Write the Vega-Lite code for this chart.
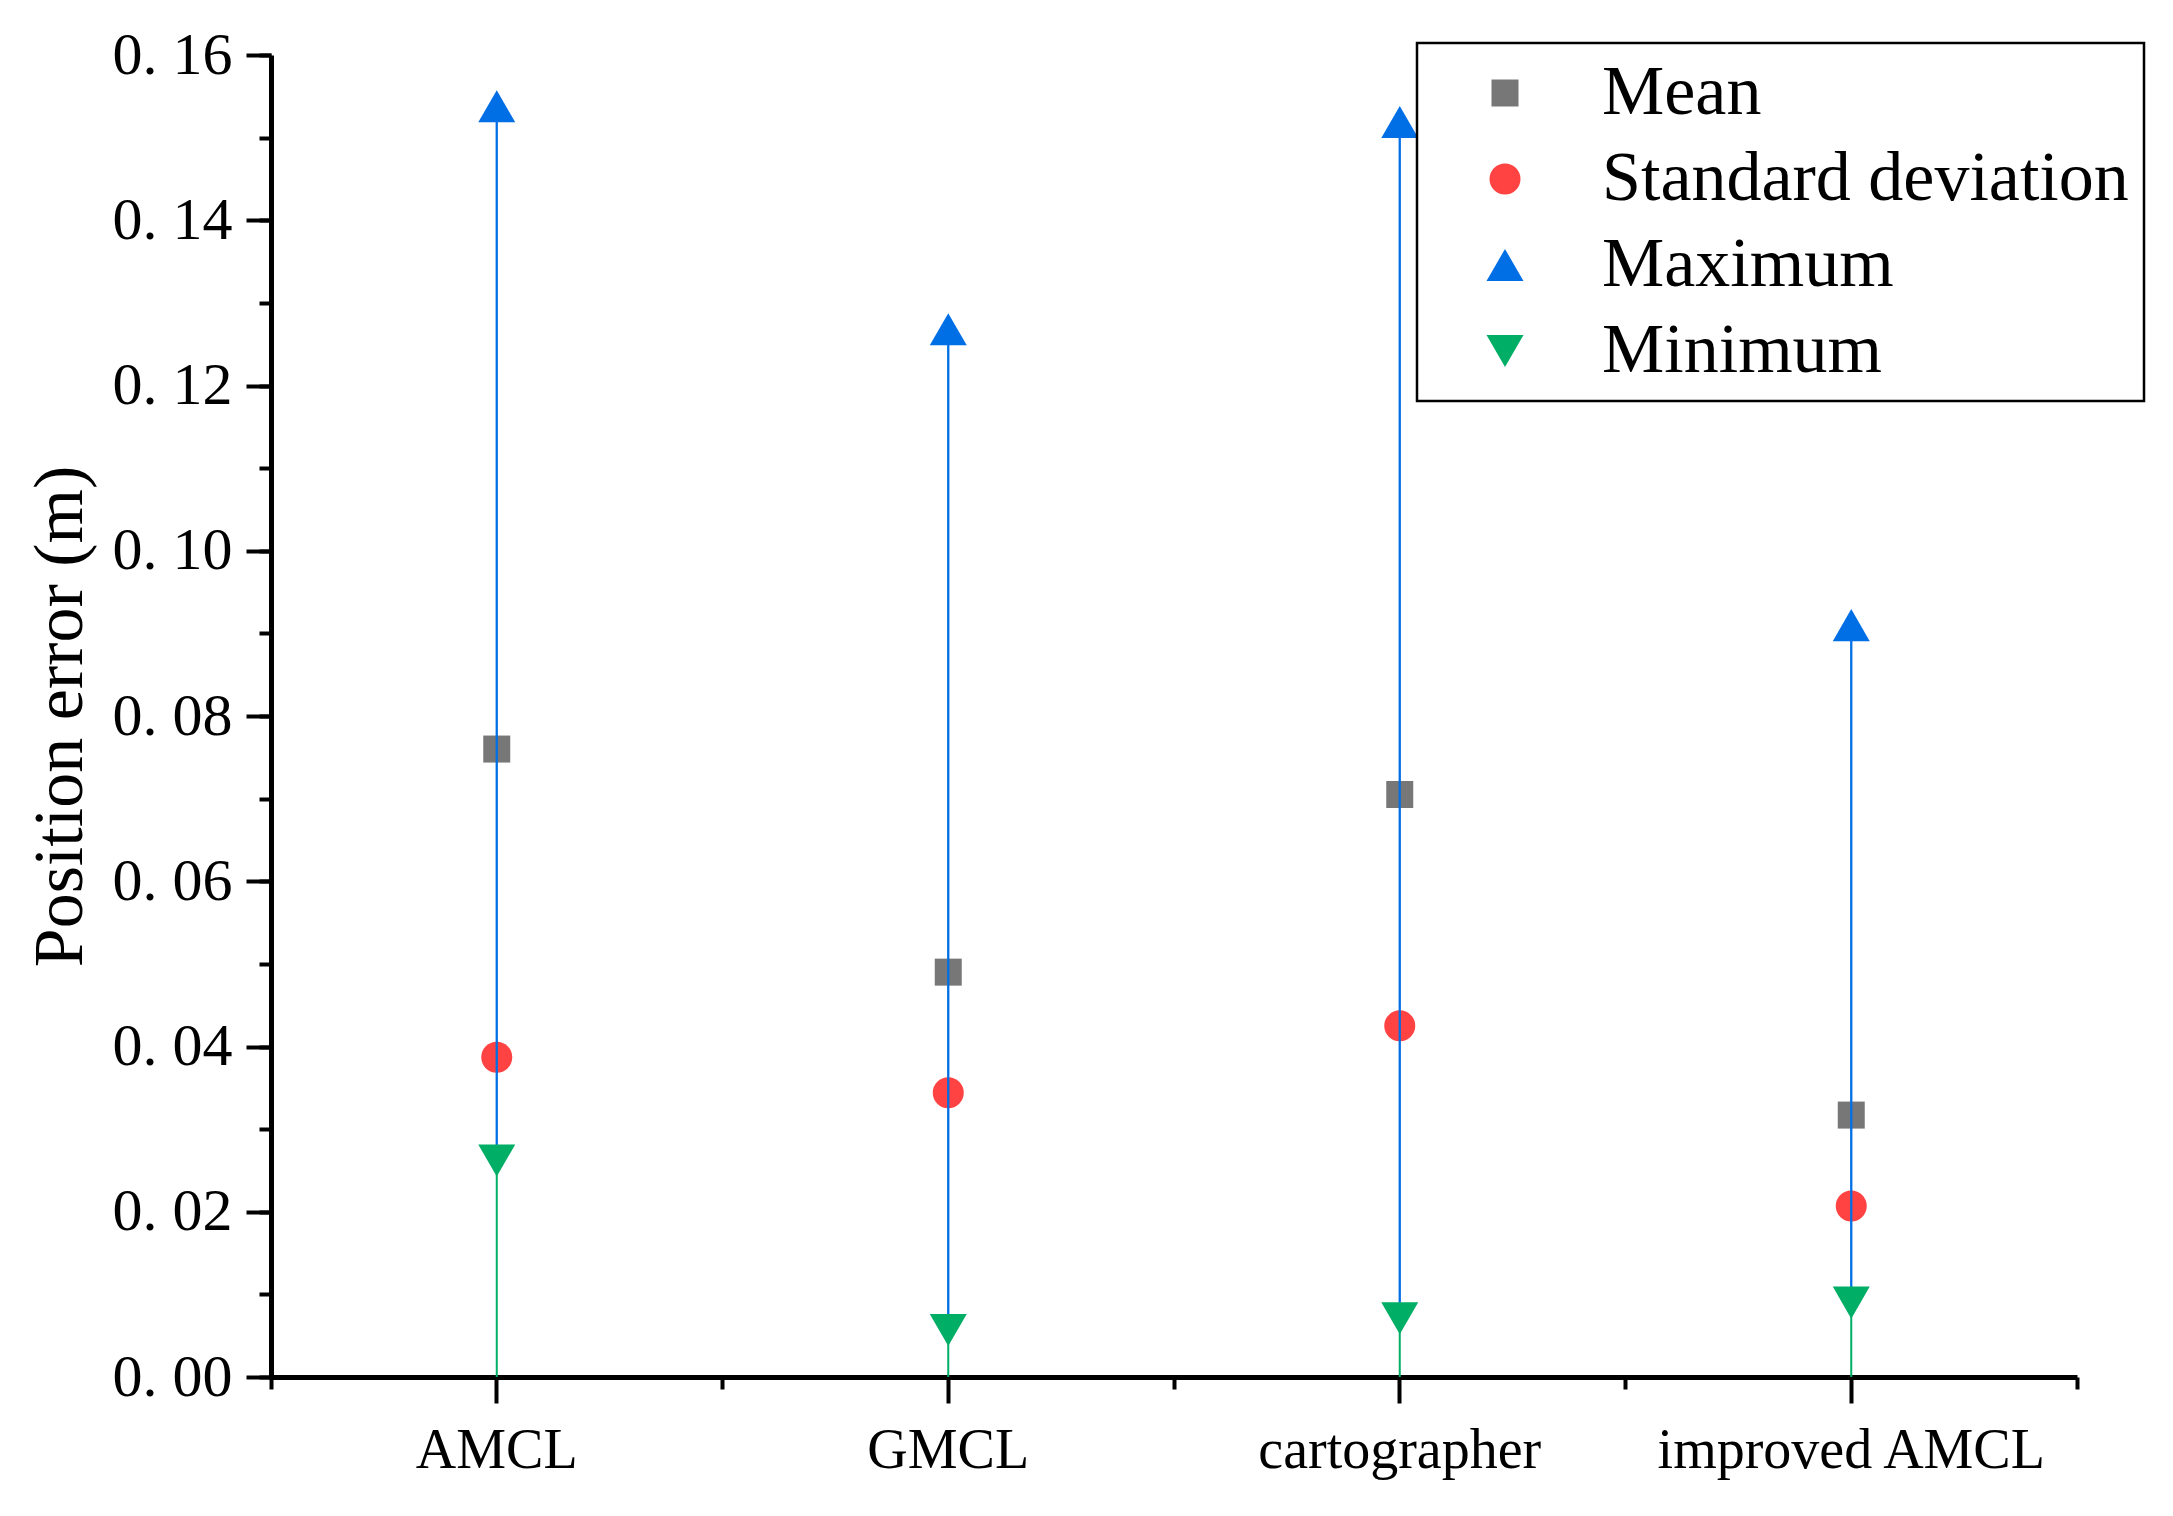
{
  "$schema": "https://vega.github.io/schema/vega-lite/v6.json",
  "width": 1806,
  "height": 1322,
  "autosize": {"type": "none"},
  "padding": {"left": 271, "top": 55, "right": 96, "bottom": 139},
  "background": "white",
  "config": {
    "view": {"stroke": null},
    "font": "Liberation Serif",
    "axis": {"labelFont": "Liberation Serif", "titleFont": "Liberation Serif", "labelColor": "black", "titleColor": "black", "tickColor": "black", "domainColor": "black", "grid": false},
    "legend": {"labelFont": "Liberation Serif", "strokeWidth": 2.5}
  },
  "datasets": {
    "stats": [
      {"method": "AMCL", "series": "Mean", "value": 0.0760},
      {"method": "AMCL", "series": "Standard deviation", "value": 0.0387},
      {"method": "AMCL", "series": "Maximum", "value": 0.1538},
      {"method": "AMCL", "series": "Minimum", "value": 0.0262},
      {"method": "GMCL", "series": "Mean", "value": 0.0490},
      {"method": "GMCL", "series": "Standard deviation", "value": 0.0344},
      {"method": "GMCL", "series": "Maximum", "value": 0.1268},
      {"method": "GMCL", "series": "Minimum", "value": 0.0057},
      {"method": "cartographer", "series": "Mean", "value": 0.0705},
      {"method": "cartographer", "series": "Standard deviation", "value": 0.0425},
      {"method": "cartographer", "series": "Maximum", "value": 0.1519},
      {"method": "cartographer", "series": "Minimum", "value": 0.0071},
      {"method": "improved AMCL", "series": "Mean", "value": 0.0317},
      {"method": "improved AMCL", "series": "Standard deviation", "value": 0.0207},
      {"method": "improved AMCL", "series": "Maximum", "value": 0.0910},
      {"method": "improved AMCL", "series": "Minimum", "value": 0.0090}
    ]
  },
  "data": {"name": "stats"},
  "resolve": {"axis": {"x": "independent", "y": "independent"}},
  "layer": [
    {
      "transform": [{"filter": {"field": "series", "oneOf": ["Mean", "Standard deviation"]}}],
      "mark": {"type": "point", "filled": true, "opacity": 1, "strokeWidth": 0},
      "encoding": {
        "x": {
          "field": "method", "type": "nominal",
          "scale": {"type": "band", "domain": ["AMCL", "GMCL", "cartographer", "improved AMCL"], "paddingInner": 0, "paddingOuter": 0},
          "axis": {"orient": "bottom", "title": null, "domain": false, "bandPosition": 0.5, "tickSize": 26, "tickWidth": 4, "labelFontSize": 56, "labelPadding": 20, "labelAngle": 0, "labelLimit": 0}
        },
        "y": {
          "field": "value", "type": "quantitative",
          "scale": {"domain": [0, 0.16], "nice": false, "zero": true},
          "axis": {
            "orient": "left",
            "values": [0, 0.02, 0.04, 0.06, 0.08, 0.1, 0.12, 0.14, 0.16],
            "tickSize": 25, "tickWidth": 4, "domain": false,
            "labelExpr": "replace(format(datum.value, '.2f'), '.', '. ')",
            "labelFontSize": 60, "labelPadding": 14,
            "title": "Position error (m)", "titleFontSize": 70, "titleFontWeight": "normal", "titlePadding": 16
          }
        },
        "color": {
          "field": "series", "type": "nominal",
          "scale": {"domain": ["Mean", "Standard deviation", "Maximum", "Minimum"], "range": ["#777777", "#FF4242", "#006FE6", "#00AE66"]},
          "legend": {
            "title": null, "orient": "none", "legendX": 1146, "legendY": -12,
            "strokeColor": "black", "fillColor": "white", "padding": 15,
            "labelFontSize": 70, "labelColor": "black", "labelLimit": 0,
            "rowPadding": 16, "symbolOffset": 38, "labelOffset": 62,
            "symbolStrokeWidth": 0, "symbolOpacity": 1
          }
        },
        "shape": {
          "field": "series", "type": "nominal",
          "scale": {"domain": ["Mean", "Standard deviation", "Maximum", "Minimum"], "range": ["square", "circle", "triangle-up", "triangle-down"]}
        },
        "size": {
          "field": "series", "type": "nominal",
          "scale": {"type": "ordinal", "domain": ["Mean", "Standard deviation", "Maximum", "Minimum"], "range": [729, 961, 1369, 1369]}
        }
      }
    },
    {
      "transform": [{"pivot": "series", "value": "value", "groupby": ["method"]}],
      "mark": {"type": "rule", "color": "#00AE66", "strokeWidth": 2},
      "encoding": {
        "x": {
          "field": "method", "type": "nominal",
          "scale": {"type": "band", "domain": ["AMCL", "GMCL", "cartographer", "improved AMCL"], "paddingInner": 0, "paddingOuter": 0},
          "axis": {"orient": "bottom", "title": null, "labels": false, "bandPosition": 1, "tickExtra": true, "tickSize": 12, "tickWidth": 4, "domainWidth": 5}
        },
        "y": {
          "field": "Minimum", "type": "quantitative",
          "scale": {"domain": [0, 0.16], "nice": false, "zero": true},
          "axis": {"orient": "left", "title": null, "labels": false, "values": [0, 0.01, 0.02, 0.03, 0.04, 0.05, 0.06, 0.07, 0.08, 0.09, 0.1, 0.11, 0.12, 0.13, 0.14, 0.15, 0.16], "tickSize": 12, "tickWidth": 4, "domainWidth": 5}
        },
        "y2": {"datum": 0}
      }
    },
    {
      "transform": [{"pivot": "series", "value": "value", "groupby": ["method"]}],
      "mark": {"type": "rule", "color": "#006FE6", "strokeWidth": 2.3},
      "encoding": {
        "x": {"field": "method", "type": "nominal", "axis": null},
        "y": {"field": "Minimum", "type": "quantitative", "axis": null},
        "y2": {"field": "Maximum"}
      }
    },
    {
      "transform": [{"filter": {"field": "series", "oneOf": ["Maximum", "Minimum"]}}],
      "mark": {"type": "point", "filled": true, "opacity": 1, "strokeWidth": 0},
      "encoding": {
        "x": {"field": "method", "type": "nominal", "axis": null},
        "y": {"field": "value", "type": "quantitative", "axis": null},
        "color": {
          "field": "series", "type": "nominal",
          "scale": {"domain": ["Mean", "Standard deviation", "Maximum", "Minimum"], "range": ["#777777", "#FF4242", "#006FE6", "#00AE66"]}
        },
        "shape": {
          "field": "series", "type": "nominal",
          "scale": {"domain": ["Mean", "Standard deviation", "Maximum", "Minimum"], "range": ["square", "circle", "triangle-up", "triangle-down"]}
        },
        "size": {
          "field": "series", "type": "nominal",
          "scale": {"type": "ordinal", "domain": ["Mean", "Standard deviation", "Maximum", "Minimum"], "range": [729, 961, 1369, 1369]}
        }
      }
    }
  ]
}
